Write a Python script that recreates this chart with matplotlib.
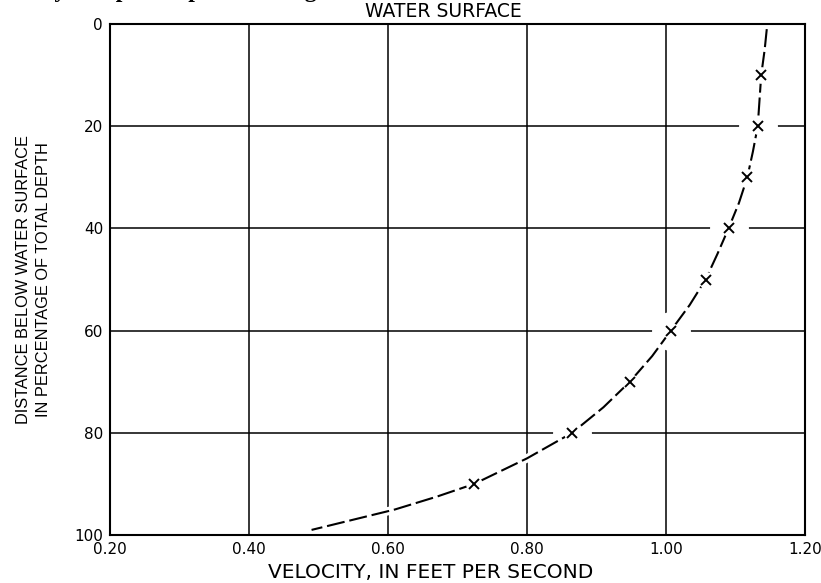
import matplotlib
matplotlib.use("Agg")
import matplotlib.pyplot as plt

# measured points (x marks)
point_velocity = [1.137, 1.132, 1.117, 1.090, 1.057, 1.007, 0.948, 0.865, 0.724]
point_depth = [10, 20, 30, 40, 50, 60, 70, 80, 90]

# curve
curve_velocity = [1.145, 1.142, 1.137, 1.132, 1.125, 1.117, 1.105, 1.090, 1.074,
                  1.057, 1.034, 1.007, 0.980, 0.948, 0.910, 0.865, 0.800, 0.724,
                  0.670, 0.610, 0.550, 0.490]
curve_depth = [1, 5, 10, 20, 25, 30, 35, 40, 45,
               50, 55, 60, 65, 70, 75, 80, 85, 90,
               92.5, 95, 97, 99]

x_ticks = [0.20, 0.40, 0.60, 0.80, 1.00, 1.20]
x_tick_labels = ["0.20", "0.40", "0.60", "0.80", "1.00", "1.20"]
y_ticks = [0, 20, 40, 60, 80, 100]
y_tick_labels = ["0", "20", "40", "60", "80", "100"]

plt.rcParams["lines.scale_dashes"] = False

fig = plt.figure(figsize=(8.21, 5.83), dpi=100)
ax = fig.add_axes([0.134, 0.0823, 0.8465, 0.8765])

ax.set_xlim(0.2, 1.2)
ax.set_ylim(100, 0)

ax.set_xticks(x_ticks)
ax.set_xticklabels(x_tick_labels, family="DejaVu Sans", fontsize=11)
ax.set_yticks(y_ticks)
ax.set_yticklabels(y_tick_labels, family="DejaVu Sans", fontsize=11)
ax.tick_params(length=0, pad=5, colors="black")

ax.grid(True, color="black", linewidth=1.1, zorder=0)
ax.set_axisbelow(True)

for spine in ax.spines.values():
    spine.set_linewidth(1.5)
    spine.set_zorder(10)

# white breaks in the grid where the curve and marks cross it
ax.plot(curve_velocity, curve_depth, color="white", linewidth=6,
        solid_capstyle="butt", zorder=2)
ax.plot(point_velocity, point_depth, linestyle="none", marker="o",
        markersize=28, markerfacecolor="white", markeredgecolor="none",
        zorder=3)

# dashed curve
ax.plot(curve_velocity, curve_depth, color="black", linewidth=1.5,
        dashes=(13, 3.5), zorder=4)

# small white break around each mark, then the mark
ax.plot(point_velocity, point_depth, linestyle="none", marker="o",
        markersize=12, markerfacecolor="white", markeredgecolor="none",
        zorder=5)
ax.plot(point_velocity, point_depth, linestyle="none", marker="x",
        markersize=7.5, markeredgewidth=1.4, color="black", zorder=6)

ax.text(0.479, 1.006, "WATER SURFACE", transform=ax.transAxes,
        ha="center", va="bottom", family="DejaVu Sans", fontsize=13.5)

ax.set_xlabel("VELOCITY, IN FEET PER SECOND", family="DejaVu Sans",
              fontsize=14.5, labelpad=3)
ax.xaxis.set_label_coords(0.462, -0.055)
ax.set_ylabel("DISTANCE BELOW WATER SURFACE\nIN PERCENTAGE OF TOTAL DEPTH",
              family="Liberation Sans", fontsize=11.8, labelpad=17,
              linespacing=1.35)

# caption line above the figure, cut off by the scan
fig.text(-0.017, 1.0 + 2.5 / 583, "Velocity in a profile plot showing",
         family="Liberation Serif", fontweight="bold", fontsize=17,
         va="baseline", ha="left")

fig.savefig("out.png", dpi=100)
